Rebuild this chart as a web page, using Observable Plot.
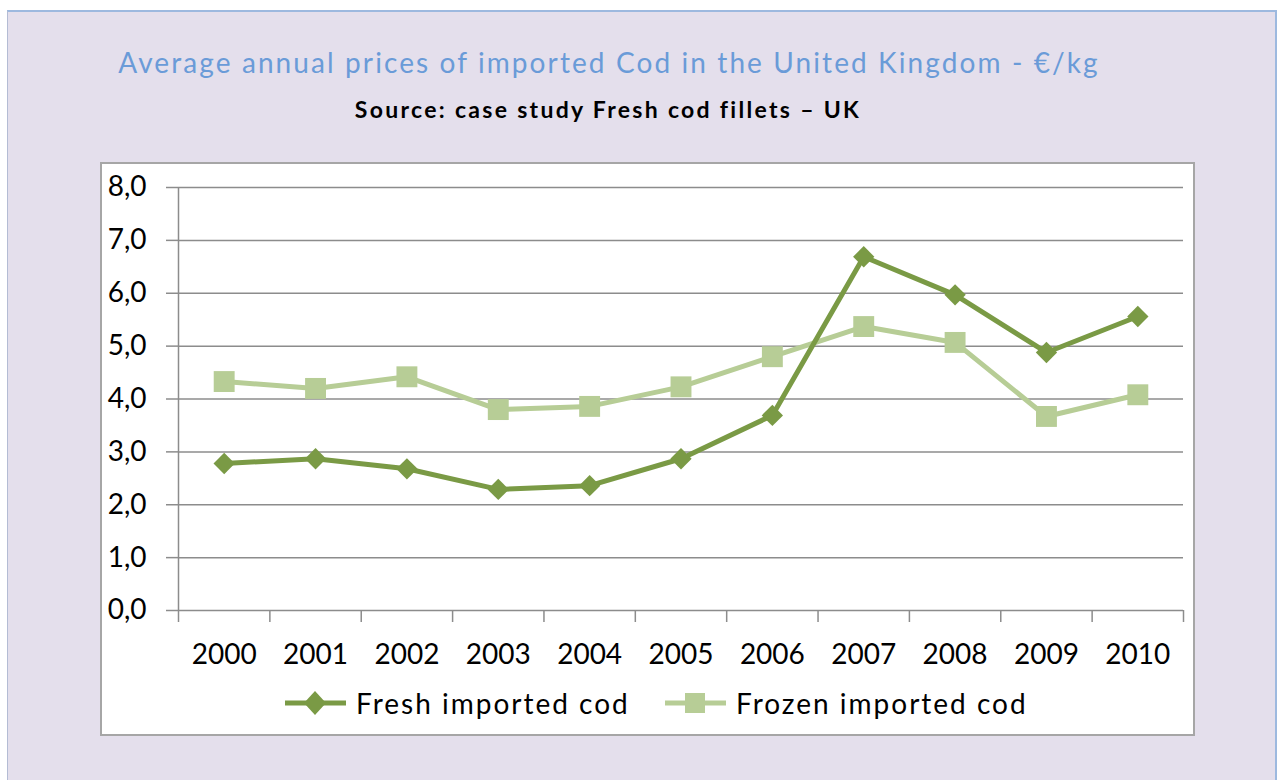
<!DOCTYPE html>
<html><head><meta charset="utf-8">
<script src="https://cdn.jsdelivr.net/npm/d3@7"></script>
<script src="https://cdn.jsdelivr.net/npm/@observablehq/plot@0.6"></script>
<style>
html,body{margin:0;padding:0;background:#fff;width:1279px;height:780px;overflow:hidden;font-family:Lato,"Open Sans",sans-serif;}
#frame{position:absolute;left:7px;top:10px;width:1267px;height:790px;background:#E4DFEC;border-top:2px solid #9DB9DF;border-right:2px solid #9DB9DF;border-left:1px solid #B4BCD4;}
#title{position:absolute;left:0;width:1218px;top:46px;line-height:32px;font-size:28px;letter-spacing:2.1px;color:#6A9BD8;text-align:center;white-space:nowrap;}
#subtitle{position:absolute;left:0;width:1216px;top:95px;line-height:28px;font-size:23px;letter-spacing:2.3px;font-weight:bold;color:#000;text-align:center;white-space:nowrap;}
#box{position:absolute;left:100px;top:162px;width:1091px;height:570px;background:#fff;border:2px solid #A6A6A6;}
#chart{position:absolute;left:100px;top:162px;}
#legend{position:absolute;left:0;top:685px;height:36px;width:1279px;}
.item{position:absolute;top:0;height:36px;display:flex;align-items:center;font-size:28px;letter-spacing:2px;color:#000;white-space:nowrap;}
.item svg{margin-right:10px;}
</style></head>
<body>
<div id="frame"></div>
<div id="title">Average annual prices of imported Cod in the United Kingdom - €/kg</div>
<div id="subtitle">Source: case study Fresh cod fillets – UK</div>
<div id="box"></div>
<div id="chart"></div>
<div id="legend"></div>
<script>
const years = [2000, 2001, 2002, 2003, 2004, 2005, 2006, 2007, 2008, 2009, 2010];
const fresh = [2.78, 2.87, 2.68, 2.29, 2.36, 2.87, 3.69, 6.69, 5.97, 4.88, 5.56];
const frozen = [4.33, 4.20, 4.42, 3.80, 3.86, 4.23, 4.80, 5.37, 5.07, 3.67, 4.08];
const seriesNames = ["Fresh imported cod", "Frozen imported cod"];
const yTicks = [0, 1, 2, 3, 4, 5, 6, 7, 8];

const colFresh = "#7A9A45";
const colFrozen = "#B7CD96";

const freshData = years.map((y, i) => ({year: y, value: fresh[i]}));
const frozenData = years.map((y, i) => ({year: y, value: frozen[i]}));
const boundaries = years.map(y => y - 0.5).concat([years[years.length - 1] + 0.5]);

const fmt = d => d.toFixed(1).replace(".", ",");

const plot = Plot.plot({
  width: 1093,
  height: 520,
  marginLeft: 78,
  marginRight: 10,
  marginTop: 25,
  marginBottom: 72,
  style: {fontFamily: "Lato, 'Open Sans', sans-serif", background: "transparent", overflow: "visible"},
  x: {type: "linear", domain: [years[0] - 0.5, years[years.length - 1] + 0.5]},
  y: {domain: [0, 8]},
  marks: [
    Plot.gridY(yTicks, {stroke: "#8C8C8C", strokeOpacity: 1, strokeWidth: 1.5}),
    Plot.axisY(yTicks, {tickSize: 12, tickPadding: 20, tickFormat: fmt, fontSize: 28, fill: "#000", stroke: "#8C8C8C", strokeWidth: 1.5, label: null}),
    Plot.ruleX([years[0] - 0.5], {stroke: "#8C8C8C", strokeWidth: 1.5}),
    Plot.axisX(boundaries, {tickSize: 12, tickFormat: () => "", stroke: "#8C8C8C", strokeWidth: 1.5, label: null}),
    Plot.axisX(years, {tickSize: 0, tickPadding: 34, tickFormat: d => String(d), fontSize: 28, fill: "#000", label: null}),
    Plot.line(frozenData, {x: "year", y: "value", stroke: colFrozen, strokeWidth: 5}),
    Plot.dot(frozenData, {x: "year", y: "value", symbol: "square", r: 11.8, fill: colFrozen, stroke: null}),
    Plot.line(freshData, {x: "year", y: "value", stroke: colFresh, strokeWidth: 5}),
    Plot.dot(freshData, {x: "year", y: "value", symbol: "diamond2", r: 9.6, fill: colFresh, stroke: null})
  ]
});
document.getElementById("chart").appendChild(plot);

const legend = document.getElementById("legend");
const legendItems = [
  {name: seriesNames[0], color: colFresh, shape: "diamond", left: 285},
  {name: seriesNames[1], color: colFrozen, shape: "square", left: 665}
];
for (const it of legendItems) {
  const div = document.createElement("div");
  div.className = "item";
  div.style.left = it.left + "px";
  const marker = it.shape === "diamond"
    ? `<path d="M30,6 L41,18 L30,30 L19,18 Z" fill="${it.color}"/>`
    : `<rect x="20" y="8" width="20" height="20" fill="${it.color}"/>`;
  div.innerHTML = `<svg width="61" height="36"><line x1="0" x2="61" y1="18" y2="18" stroke="${it.color}" stroke-width="5"/>${marker}</svg><span>${it.name}</span>`;
  legend.appendChild(div);
}
</script>
</body></html>
